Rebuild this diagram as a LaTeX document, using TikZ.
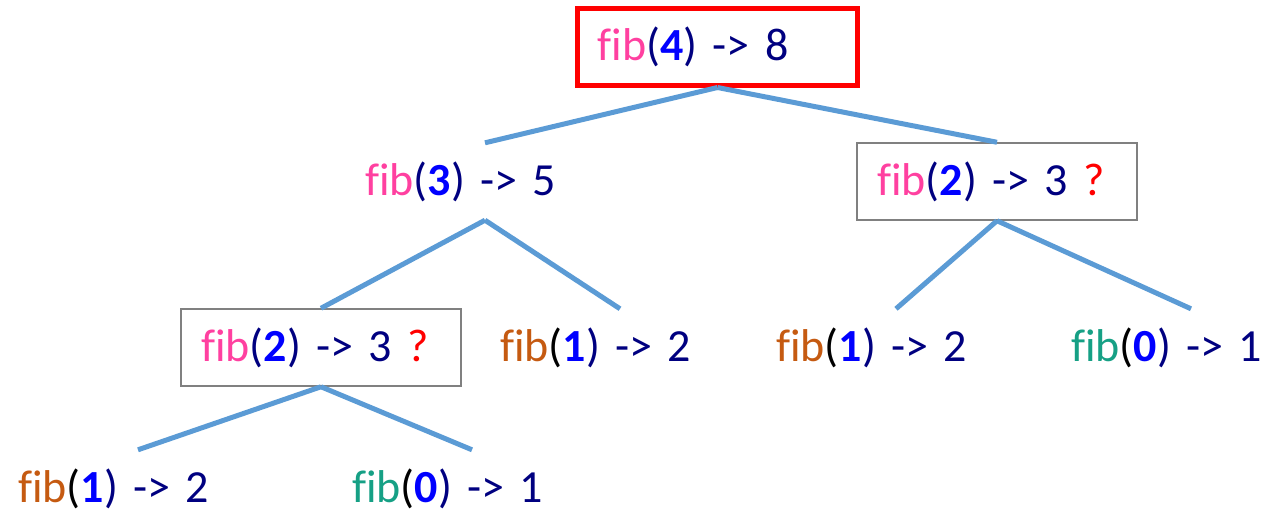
\documentclass[tikz,border=0pt]{standalone}
\usepackage{fontspec}
\setmainfont[Ligatures=NoCommon]{Carlito}
\usepackage{tikz}
\usetikzlibrary{positioning}
\definecolor{FibPink}{RGB}{255,64,160}
\definecolor{FibOrange}{RGB}{197,90,17}
\definecolor{FibGreen}{RGB}{22,160,133}
\definecolor{ArgBlue}{RGB}{0,0,255}
\definecolor{ResNavy}{RGB}{0,0,128}
\definecolor{EdgeBlue}{RGB}{91,155,213}
\definecolor{AskRed}{RGB}{255,0,0}
\newcommand{\fibcall}[4]{\textcolor{#1}{fib}\textcolor{#2}{(}\textcolor{ArgBlue}{\textbf{#3}}\textcolor{ResNavy}{) -> #4}}

\begin{document}
\begin{tikzpicture}[x=1pt,y=-1pt,
    call/.style={text width=240pt,inner xsep=20pt,inner ysep=0pt,
      minimum height=77pt,align=left,font=\fontsize{46}{54}\selectfont},
    pending/.style={call,draw=gray,line width=1.5pt},
    root/.style={call,draw=AskRed,line width=5pt},
    edge/.style={EdgeBlue,line width=5pt}]
  \useasboundingbox (0,0) rectangle (1287,515);
  \node[root] (f4) at (717.5,46.5) {\fibcall{FibPink}{ResNavy}{4}{8}};
  \node[call] (f3) at (485,181.5) {\fibcall{FibPink}{ResNavy}{3}{5}};
  \node[pending] (f2r) at (997,181.5) {\fibcall{FibPink}{ResNavy}{2}{3} \textcolor{AskRed}{?}};
  \node[pending] (f2l) at (321,347.5) {\fibcall{FibPink}{ResNavy}{2}{3} \textcolor{AskRed}{?}};
  \node[call] (f1a) at (620,347.5) {\fibcall{FibOrange}{black}{1}{2}};
  \node[call] (f1b) at (896,347.5) {\fibcall{FibOrange}{black}{1}{2}};
  \node[call] (f0a) at (1191,347.5) {\fibcall{FibGreen}{black}{0}{1}};
  \node[call] (f1c) at (138,488.5) {\fibcall{FibOrange}{black}{1}{2}};
  \node[call] (f0b) at (472,488.5) {\fibcall{FibGreen}{black}{0}{1}};
  \foreach \a/\b in {f4/f3,f4/f2r,f3/f2l,f3/f1a,f2r/f1b,f2r/f0a,f2l/f1c,f2l/f0b}
    \draw[edge] (\a.south) -- (\b.north);
\end{tikzpicture}
\end{document}
